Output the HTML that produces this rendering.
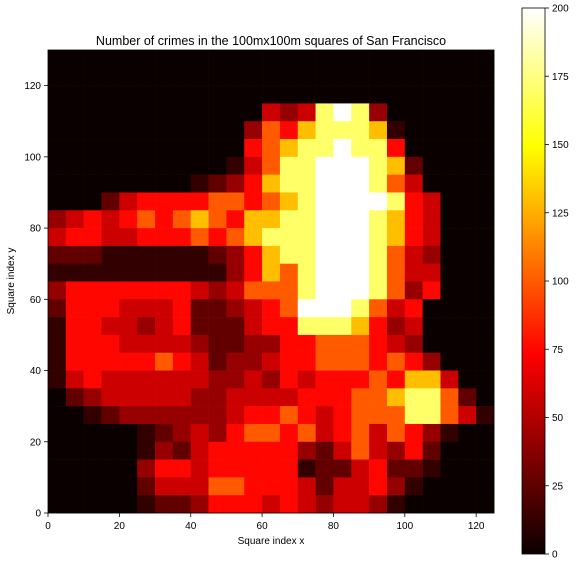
<!DOCTYPE html>
<html><head><meta charset="utf-8"><style>
body{margin:0;background:#fff;font-family:"Liberation Sans",sans-serif;}
svg text{font-family:"Liberation Sans",sans-serif;fill:#000;}
</style></head><body>
<svg id="c" width="582" height="567" xmlns="http://www.w3.org/2000/svg">
<rect width="582" height="567" fill="#fff"/>
<text x="271" y="45" font-size="12.5" text-anchor="middle">Number of crimes in the 100mx100m squares of San Francisco</text>
<g id="cells"></g>
<rect x="48" y="50" width="446" height="463" fill="none" stroke="#000" stroke-width="0.8"/>
<g id="axes"></g>
<text x="271" y="544" font-size="10" text-anchor="middle">Square index x</text>
<text x="14" y="281" font-size="10" text-anchor="middle" transform="rotate(-90 14 281)">Square index y</text>
<defs><linearGradient id="hot" x1="0" y1="1" x2="0" y2="0">
<stop offset="0" stop-color="#0b0000"/><stop offset="0.365" stop-color="#ff0000"/><stop offset="0.746" stop-color="#ffff00"/><stop offset="1" stop-color="#ffffff"/>
</linearGradient></defs>
<rect x="522" y="8" width="23" height="546" fill="url(#hot)" stroke="#000" stroke-width="0.8"/>
<g id="cbar"></g>
</svg>
<script>
// block size 5 units; rows listed from top (y 125-130) down to (y 0-5); levels 0..9
const blockRows = [
"0000000000000000000000000",
"0000000000000000000000000",
"0000000000000000000000000",
"0000000000004348983000000",
"0000000000036578887100000",
"0000000000056788988500000",
"0000000000146889998720000",
"0000000012357889998640000",
"0002455556656789999854000",
"3454565676577889998754000",
"4554455565678889998754000",
"2221111112357889998643000",
"1111111111357689998644000",
"3555555543466689998635000",
"2555444522345699986450000",
"1554434522245588875340000",
"1555444432233556665430000",
"1555556542334556665653000",
"1454444443343545556577400",
"0234444433444455566788620",
"0012333333455654566688641",
"0000012343566564564653100",
"0000013245555532464352000",
"0000035545555512245221000",
"0000024446655542445310000",
"0000012235554543443100000"
];
// estimated crime count for each level
const levelCounts = [0, 12, 26, 42, 58, 75, 100, 130, 170, 200];
const blockSize = 5;
const maxCount = 200;
const xTicks = [0,20,40,60,80,100,120];
const yTicks = [0,20,40,60,80,100,120];
const cbarTicks = [0,25,50,75,100,125,150,175,200];
const counts = blockRows.map(r => r.split('').map(ch => levelCounts[+ch]));

const X = v => 48 + v * 446 / 125;
const Y = v => 513 - v * 463 / 130;
const CB = v => 554 - v / maxCount * 546;
function hot(t){
  t = Math.max(0, Math.min(1, t));
  let r, g, b;
  r = t < 0.365 ? 0.0416 + (1 - 0.0416) * t / 0.365 : 1;
  g = t < 0.365 ? 0 : t < 0.746 ? (t - 0.365) / 0.381 : 1;
  b = t < 0.746 ? 0 : (t - 0.746) / 0.254;
  return `rgb(${Math.round(r*255)},${Math.round(g*255)},${Math.round(b*255)})`;
}
const NS = 'http://www.w3.org/2000/svg';
const cells = document.getElementById('cells');
const nRows = counts.length;
counts.forEach((row, ri) => {
  const y0 = (nRows - 1 - ri) * blockSize;
  row.forEach((v, ci) => {
    const x0 = ci * blockSize;
    const x1 = Math.min(125, x0 + blockSize);
    const r = document.createElementNS(NS, 'rect');
    r.setAttribute('x', X(x0));
    r.setAttribute('y', Y(y0 + blockSize));
    r.setAttribute('width', X(x1) - X(x0) + 0.3);
    r.setAttribute('height', Y(y0) - Y(y0 + blockSize) + 0.3);
    r.setAttribute('fill', hot(v / maxCount));
    
    
    cells.appendChild(r);
  });
});
const axes = document.getElementById('axes');
function add(tag, attrs, text){
  const e = document.createElementNS(NS, tag);
  for (const k in attrs) e.setAttribute(k, attrs[k]);
  if (text !== undefined) e.textContent = text;
  axes.appendChild(e); return e;
}
xTicks.forEach(t => {
  add('line', {x1:X(t), x2:X(t), y1:513, y2:517, stroke:'#000', 'stroke-width':0.8});
  const e = add('text', {x:X(t), y:529, 'font-size':10, 'text-anchor':'middle'}, t);
  
  
});
yTicks.forEach(t => {
  add('line', {x1:44, x2:48, y1:Y(t), y2:Y(t), stroke:'#000', 'stroke-width':0.8});
  const e = add('text', {x:41, y:Y(t) + 3.5, 'font-size':10, 'text-anchor':'end'}, t);
  
  
});
cbarTicks.forEach(t => {
  add('line', {x1:545, x2:549, y1:CB(t), y2:CB(t), stroke:'#000', 'stroke-width':0.8});
  const e = add('text', {x:552, y:CB(t) + 3.5, 'font-size':10}, t);
  
  
});
</script>
</body></html>
